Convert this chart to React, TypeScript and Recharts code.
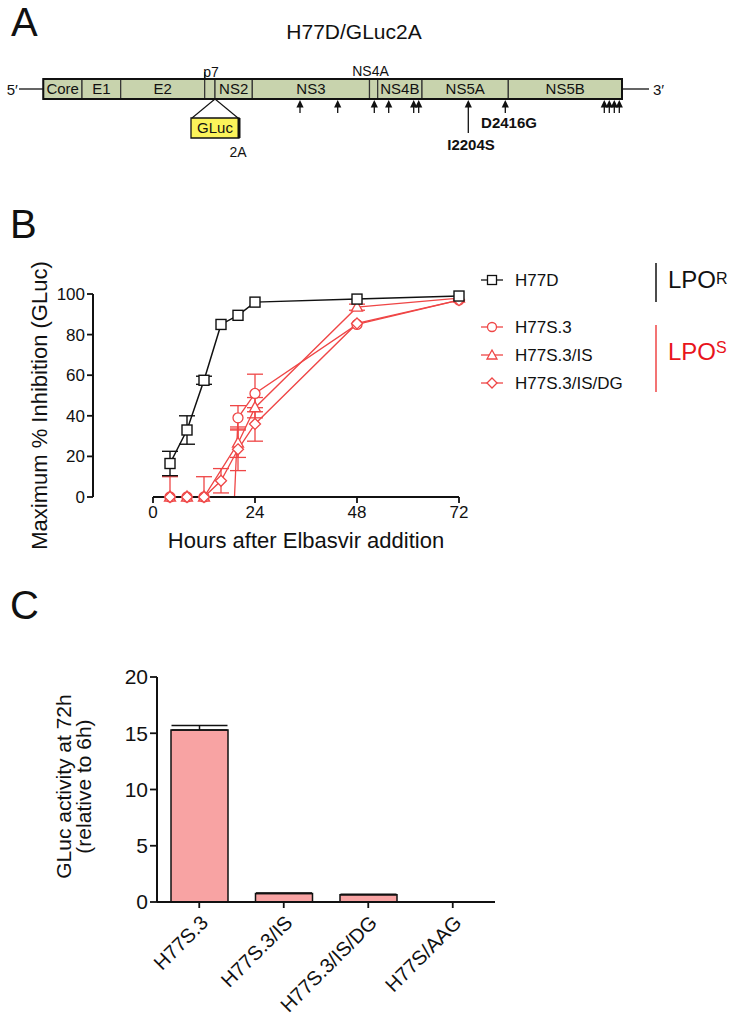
import React from "react";
import {
  ComposedChart, LineChart, BarChart, Bar, Line, Scatter, XAxis, YAxis, ErrorBar,
  ReferenceArea, ReferenceLine, Legend, Label,
} from "recharts";

const FONT = "'Liberation Sans', Arial, Helvetica, sans-serif";
const NARROW = "'Liberation Sans Narrow', 'Liberation Sans', Arial, sans-serif";
const INK = "#111";
const RED = "#ef4646";
const BOX_FILL = "#c8d3ad";
const BAR_FILL = "#f8a3a3";

// ---------- Panel A: genome map, positions (box = 0..579)
const regionNames = ["Core", "E1", "E2", "p7", "NS2", "NS3", "NS4A", "NS4B", "NS5A", "NS5B"];
const regionEdges = [0, 38.7, 77.4, 161.4, 171.7, 209, 326.2, 334.4, 378.7, 465, 578.7];
const labelledInside = ["Core", "E1", "E2", "NS2", "NS3", "NS4B", "NS5A", "NS5B"];
const shortArrows = [256.7, 294.4, 331, 345.4, 370.4, 375.4, 462, 561, 566, 571, 576];
const longArrows = [425];
const mapTexts = [
  { x: -25.5, y: 95, text: "5′", kind: "endL" },
  { x: 609.7, y: 95, text: "3′", kind: "endR" },
  { x: 310.7, y: 39, text: "H77D/GLuc2A", kind: "title" },
  { x: 167.7, y: 77, text: "p7", kind: "tag" },
  { x: 327.2, y: 76, text: "NS4A", kind: "tag" },
  { x: 194.7, y: 157, text: "2A", kind: "tag" },
  { x: 427.7, y: 150, text: "I2204S", kind: "mut" },
  { x: 465.7, y: 128, text: "D2416G", kind: "mut" },
];
// rows of the map (y runs downward)
const ROW = { boxTop: 79, boxMid: 89, boxBottom: 99, arrowTip: 100, glucTop: 118, glucBottom: 138, p7Top: 72 };
const GLUC = { x1: 147.7, x2: 195.7, join: 171.7 };

// ---------- Panel B: time course
const hours = [4, 8, 12, 16, 20, 24, 48, 72];
const h77d = [16.5, 33, 57.5, 85, 89.5, 96, 97.5, 99];
const h77dErr = [6, 7, 2, null, null, null, null, null];
const h77s3 = [0, 0, 0, -150, 39, 51, 85, 97];
const h77s3Err = [[0, 10], null, null, null, [6, 6], [9, 9.5], null, null];
const h77s3is = [0, 0, 0, null, 26.5, 44, 93.5, 98];
const h77s3isErr = [null, null, [0, 10], null, [7, 8], [5, 5], [1.5, 1.5], null];
const h77s3isdg = [0, 0, 0, 8, 23.5, 36, 85.5, 97];
const h77s3isdgErr = [null, null, null, [6, 6], [10.5, 10], [8.5, 8], null, null];
const hourTicks = [0, 24, 48, 72];
const inhibTicks = [0, 20, 40, 60, 80, 100];

// ---------- Panel C: bars
const constructs = ["H77S.3", "H77S.3/IS", "H77S.3/IS/DG", "H77S/AAG"];
const gluc72h = [15.3, 0.75, 0.65, 0.02];
const gluc72hErr = [0.4, 0.04, 0.03, 0];
const glucTicks = [0, 5, 10, 15, 20];

const regions = regionNames.map((name, i) => ({ name, start: regionEdges[i], end: regionEdges[i + 1] }));
const arrowPoints = [
  ...shortArrows.map((x) => ({ x, y: ROW.arrowTip, stem: 13 })),
  ...longArrows.map((x) => ({ x, y: ROW.arrowTip, stem: 33 })),
];

const timeRows = hours.map((h, i) => ({
  h,
  d: h77d[i], dErr: h77dErr[i],
  s3: h77s3[i], s3Err: h77s3Err[i],
  is: h77s3is[i], isErr: h77s3isErr[i],
  dg: h77s3isdg[i], dgErr: h77s3isdgErr[i],
}));

const barRows = constructs.map((name, i) => ({ name, v: gluc72h[i], e: [0, gluc72hErr[i]] }));

const TEXT_STYLE: Record<string, any> = {
  endL: { anchor: "end", size: 15, weight: 400, font: FONT },
  endR: { anchor: "start", size: 15, weight: 400, font: FONT },
  title: { anchor: "middle", size: 21, weight: 400, font: FONT },
  tag: { anchor: "middle", size: 14, weight: 400, font: FONT },
  mut: { anchor: "middle", size: 15, weight: 700, font: NARROW },
};

const MapText = (p: any) => {
  const s = TEXT_STYLE[p.payload.kind];
  return (
    <text x={p.cx} y={p.cy} textAnchor={s.anchor} fontSize={s.size} fontWeight={s.weight} fontFamily={s.font} fill={INK}>
      {p.payload.text}
    </text>
  );
};

const ArrowShape = (p: any) => (
  <g>
    <line x1={p.cx} x2={p.cx} y1={p.cy + 5} y2={p.cy + p.payload.stem} stroke={INK} strokeWidth={1.3} />
    <path d={`M${p.cx},${p.cy} L${p.cx - 3.6},${p.cy + 7.5} L${p.cx + 3.6},${p.cy + 7.5} Z`} fill={INK} />
  </g>
);

function GenomeMap() {
  return (
    <ComposedChart width={733} height={170} margin={{ top: 0, right: 0, bottom: 0, left: 0 }}>
      <XAxis type="number" dataKey="x" domain={[-43.3, 689.7]} hide />
      <YAxis type="number" dataKey="y" domain={[0, 170]} reversed hide />
      {regions.map((r) => (
        <ReferenceArea
          key={r.name}
          x1={r.start}
          x2={r.end}
          y1={ROW.boxTop}
          y2={ROW.boxBottom}
          fill={BOX_FILL}
          fillOpacity={1}
          stroke="#333"
          strokeWidth={1.2}
          label={labelledInside.includes(r.name)
            ? { value: r.name, position: "center", fill: INK, fontSize: 15, fontFamily: NARROW }
            : undefined}
        />
      ))}
      <ReferenceArea x1={regionEdges[0]} x2={regionEdges[regionEdges.length - 1]} y1={ROW.boxTop} y2={ROW.boxBottom}
        fill="none" fillOpacity={0} stroke={INK} strokeWidth={2} />
      <ReferenceLine segment={[{ x: -24.3, y: ROW.boxMid }, { x: 0, y: ROW.boxMid }]} stroke={INK} strokeWidth={1.3} />
      <ReferenceLine segment={[{ x: 578.7, y: ROW.boxMid }, { x: 605.7, y: ROW.boxMid }]} stroke={INK} strokeWidth={1.3} />
      <ReferenceLine segment={[{ x: regionEdges[3], y: ROW.p7Top }, { x: regionEdges[3], y: ROW.boxTop }]} stroke={INK} strokeWidth={1.2} />
      <ReferenceLine segment={[{ x: GLUC.join, y: ROW.boxBottom }, { x: GLUC.x1 + 1, y: ROW.glucTop }]} stroke={INK} strokeWidth={1.1} />
      <ReferenceLine segment={[{ x: GLUC.join, y: ROW.boxBottom }, { x: GLUC.x2 - 1, y: ROW.glucTop }]} stroke={INK} strokeWidth={1.1} />
      <ReferenceArea x1={GLUC.x1} x2={GLUC.x2} y1={ROW.glucTop} y2={ROW.glucBottom} fill="#fbf35a" fillOpacity={1}
        stroke={INK} strokeWidth={1.3}
        label={{ value: "GLuc", position: "center", fill: INK, fontSize: 15, fontFamily: FONT }} />
      <ReferenceLine segment={[{ x: GLUC.x2, y: ROW.glucTop }, { x: GLUC.x2, y: ROW.glucBottom }]} stroke={INK} strokeWidth={3} />
      <Scatter data={arrowPoints} shape={ArrowShape} isAnimationActive={false} />
      <Scatter data={mapTexts} shape={MapText} isAnimationActive={false} />
    </ComposedChart>
  );
}

const squareDot = (p: any) =>
  p.cy == null ? <g key={p.index} /> : (
    <rect key={p.index} x={p.cx - 5} y={p.cy - 5} width={10} height={10} fill="#fff" stroke={INK} strokeWidth={1.4} />
  );
const triangleDot = (p: any) =>
  p.cy == null ? <g key={p.index} /> : (
    <path key={p.index} d={`M${p.cx},${p.cy - 6} L${p.cx + 5.5},${p.cy + 4} L${p.cx - 5.5},${p.cy + 4} Z`}
      fill="#fff" stroke={RED} strokeWidth={1.3} />
  );
const diamondDot = (p: any) =>
  p.cy == null ? <g key={p.index} /> : (
    <path key={p.index} d={`M${p.cx},${p.cy - 5.5} L${p.cx + 5.5},${p.cy} L${p.cx},${p.cy + 5.5} L${p.cx - 5.5},${p.cy} Z`}
      fill="#fff" stroke={RED} strokeWidth={1.3} />
  );

const legendItems = [
  { label: "H77D", color: INK, marker: "square" },
  { label: "H77S.3", color: RED, marker: "circle" },
  { label: "H77S.3/IS", color: RED, marker: "triangle" },
  { label: "H77S.3/IS/DG", color: RED, marker: "diamond" },
];
const legendRowY = [25, 72, 100, 128];

function LegendMarker({ kind, x, y, color }: { kind: string; x: number; y: number; color: string }) {
  if (kind === "square") return <rect x={x - 4.5} y={y - 4.5} width={9} height={9} fill="#fff" stroke={color} strokeWidth={1.3} />;
  if (kind === "circle") return <circle cx={x} cy={y} r={4.5} fill="#fff" stroke={color} strokeWidth={1.3} />;
  if (kind === "triangle") return <path d={`M${x},${y - 5} L${x + 5},${y + 4} L${x - 5},${y + 4} Z`} fill="#fff" stroke={color} strokeWidth={1.3} />;
  return <path d={`M${x},${y - 5} L${x + 5},${y} L${x},${y + 5} L${x - 5},${y} Z`} fill="#fff" stroke={color} strokeWidth={1.3} />;
}

function TimeLegend() {
  return (
    <svg width={263} height={150} style={{ overflow: "visible" }}>
      {legendItems.map((it, i) => (
        <g key={it.label}>
          <line x1={11} x2={33} y1={legendRowY[i]} y2={legendRowY[i]} stroke={it.color} strokeWidth={1.3} />
          <LegendMarker kind={it.marker} x={22} y={legendRowY[i]} color={it.color} />
          <text x={45} y={legendRowY[i] + 6} fontSize={17} fontFamily={FONT} fill={INK}>{it.label}</text>
        </g>
      ))}
      <line x1={186} x2={186} y1={8} y2={47} stroke={INK} strokeWidth={1.5} />
      <text x={198} y={33} fontSize={24} fontFamily={FONT} fill={INK}>
        LPO<tspan fontSize={16} dy={-4}>R</tspan>
      </text>
      <line x1={186} x2={186} y1={70} y2={137} stroke={RED} strokeWidth={1.5} />
      <text x={198} y={105} fontSize={24} fontFamily={FONT} fill="#e8141c">
        LPO<tspan fontSize={16} dy={-7}>S</tspan>
      </text>
    </svg>
  );
}

function TimeCourse() {
  const tick = { fontSize: 17, fill: INK, fontFamily: FONT };
  return (
    <LineChart width={733} height={320} data={timeRows} margin={{ top: 44, right: 274, bottom: 17, left: 93 }}>
      <XAxis type="number" dataKey="h" domain={[0, 72]} ticks={hourTicks} tick={tick} tickSize={6} tickMargin={3}
        axisLine={{ stroke: INK, strokeWidth: 2 }} tickLine={{ stroke: INK, strokeWidth: 1.8 }} height={56}>
        <Label content={(p: any) => {
          const vb = p.viewBox || { x: 153, y: 247, width: 306 };
          return (
            <text x={vb.x + vb.width / 2} y={vb.y + 51} textAnchor="middle" fontSize={22} fontFamily={FONT} fill={INK}>
              Hours after Elbasvir addition
            </text>
          );
        }} />
      </XAxis>
      <YAxis yAxisId="main" type="number" domain={[0, 100]} ticks={inhibTicks} tick={tick} tickSize={6} tickMargin={2}
        axisLine={{ stroke: INK, strokeWidth: 2 }} tickLine={{ stroke: INK, strokeWidth: 1.8 }} width={60}>
        <Label content={(p: any) => {
          const vb = p.viewBox || { x: 93, y: 44, height: 203 };
          const cx = vb.x + 14;
          const cy = vb.y + vb.height / 2 + 10;
          return (
            <text x={cx} y={cy} transform={`rotate(-90, ${cx}, ${cy})`} textAnchor="middle" fontSize={22} fontFamily={FONT} fill={INK}>
              Maximum % Inhibition (GLuc)
            </text>
          );
        }} />
      </YAxis>
      <YAxis yAxisId="clip" type="number" domain={[0, 100]} allowDataOverflow hide />
      <Legend layout="vertical" align="center" verticalAlign="middle"
        wrapperStyle={{ left: 470, top: 5, width: 263, height: 150 }} content={() => <TimeLegend />} />
      <Line yAxisId="clip" dataKey="s3" stroke={RED} strokeWidth={1.3} isAnimationActive={false}
        dot={{ r: 5, fill: "#fff", stroke: RED, strokeWidth: 1.3, clipDot: false } as any}>
        <ErrorBar dataKey="s3Err" width={8} stroke={RED} strokeWidth={1.3} direction="y" />
      </Line>
      <Line yAxisId="main" dataKey="is" stroke={RED} strokeWidth={1.3} connectNulls isAnimationActive={false} dot={triangleDot}>
        <ErrorBar dataKey="isErr" width={8} stroke={RED} strokeWidth={1.3} direction="y" />
      </Line>
      <Line yAxisId="main" dataKey="dg" stroke={RED} strokeWidth={1.3} isAnimationActive={false} dot={diamondDot}>
        <ErrorBar dataKey="dgErr" width={8} stroke={RED} strokeWidth={1.3} direction="y" />
      </Line>
      <Line yAxisId="main" dataKey="d" stroke={INK} strokeWidth={1.5} isAnimationActive={false} dot={squareDot}>
        <ErrorBar dataKey="dErr" width={8} stroke={INK} strokeWidth={1.4} direction="y" />
      </Line>
    </LineChart>
  );
}

const ConstructTick = (p: any) => {
  const x = p.x + 10;
  const y = p.y + 14;
  return (
    <text x={x} y={y} transform={`rotate(-45, ${x}, ${y})`} textAnchor="end" fontSize={20} fontFamily={FONT} fill={INK}>
      {p.payload.value}
    </text>
  );
};

function GlucBars() {
  return (
    <BarChart width={733} height={375} data={barRows} margin={{ top: 27, right: 238, bottom: 0, left: 97 }}>
      <XAxis dataKey="name" interval={0} tick={ConstructTick} tickSize={6} height={123}
        axisLine={{ stroke: INK, strokeWidth: 2 }} tickLine={{ stroke: INK, strokeWidth: 1.8 }} />
      <YAxis type="number" domain={[0, 20]} ticks={glucTicks} tickSize={7} tickMargin={2} width={60}
        tick={{ fontSize: 21, fill: INK, fontFamily: FONT }}
        axisLine={{ stroke: INK, strokeWidth: 2 }} tickLine={{ stroke: INK, strokeWidth: 1.8 }}>
        <Label content={(p: any) => {
          const vb = p.viewBox || { x: 97, y: 27, height: 225 };
          const cy = vb.y + vb.height / 2 - 3;
          return (
            <g fontSize={21} fontFamily={FONT} fill={INK} textAnchor="middle">
              <text x={71} y={cy} transform={`rotate(-90, 71, ${cy})`}>GLuc activity at 72h</text>
              <text x={91} y={cy} transform={`rotate(-90, 91, ${cy})`}>(relative to 6h)</text>
            </g>
          );
        }} />
      </YAxis>
      <Bar dataKey="v" fill={BAR_FILL} stroke={INK} strokeWidth={1.5} barSize={57} isAnimationActive={false}>
        <ErrorBar dataKey="e" width={28} stroke={INK} strokeWidth={1.5} direction="y" />
      </Bar>
    </BarChart>
  );
}

export default function App() {
  return (
    <div style={{ position: "relative", width: 733, height: 1025, background: "#fff", overflow: "hidden", fontFamily: FONT }}>
      <style>{"body{margin:0}"}</style>
      <div style={{ position: "absolute", left: 0, top: 0 }}><GenomeMap /></div>
      <div style={{ position: "absolute", left: 0, top: 250 }}><TimeCourse /></div>
      <div style={{ position: "absolute", left: 0, top: 650 }}><GlucBars /></div>
      <svg width={733} height={1025} style={{ position: "absolute", left: 0, top: 0, pointerEvents: "none" }}>
        <g fontSize={40} fontFamily={FONT} fill={INK}>
          <text x={11} y={36}>A</text>
          <text x={10} y={238}>B</text>
          <text x={10} y={619}>C</text>
        </g>
      </svg>
    </div>
  );
}
